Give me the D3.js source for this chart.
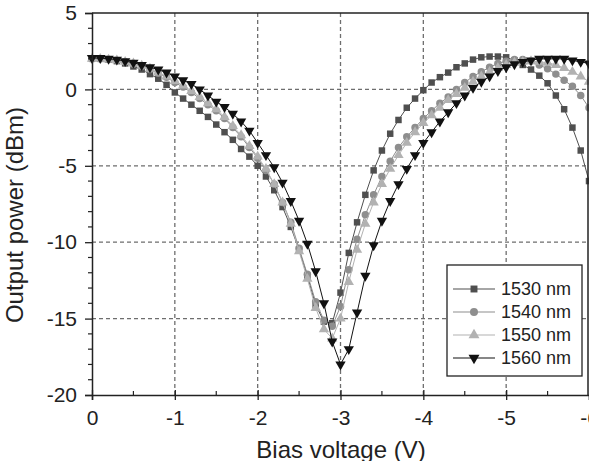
<!DOCTYPE html>
<html>
<head>
<meta charset="utf-8">
<script src="https://cdn.jsdelivr.net/npm/d3@7"></script>
<style>
  body { margin: 0; background: #fff; overflow: hidden; }
  svg { display: block; font-family: "Liberation Sans", Arial, sans-serif; }
</style>
</head>
<body>
<div id="chart"></div>
<script>
// bias voltage steps, 0 to -6 V in 0.1 V steps
var volts = d3.range(0, 61).map(function (i) { return -i / 10; });

var p1530 = [2.0, 2.0, 1.95, 1.85, 1.7, 1.5, 1.3, 1.0, 0.7, 0.3,
    -0.2, -0.6, -1.0, -1.4, -1.8, -2.3, -2.8, -3.3, -3.9, -4.4,
    -5.0, -5.7, -6.6, -7.7, -9.0, -10.5, -12.2, -14.1, -15.2, -15.3,
    -13.3, -10.7, -8.7, -6.9, -5.3, -4.0, -2.9, -2.0, -1.2, -0.6,
    -0.05, 0.45, 0.8, 1.1, 1.45, 1.7, 1.95, 2.1, 2.15, 2.15,
    2.1, 1.9, 1.6, 1.3, 0.9, 0.4, -0.4, -1.3, -2.5, -4.0, -6.0];

var p1540 = [2.0, 2.0, 1.95, 1.9, 1.8, 1.65, 1.5, 1.3, 1.05, 0.8,
    0.45, 0.15, -0.2, -0.6, -1.0, -1.4, -1.9, -2.5, -3.1, -3.8,
    -4.5, -5.3, -6.2, -7.4, -8.7, -10.4, -12.1, -13.9, -15.1, -15.5,
    -14.2, -11.8, -9.8, -8.2, -6.9, -5.7, -4.7, -3.8, -3.1, -2.5,
    -1.9, -1.4, -0.9, -0.5, 0.0, 0.45, 0.85, 1.15, 1.45, 1.7,
    1.85, 1.95, 1.95, 1.85, 1.6, 1.35, 1.0, 0.6, 0.2, -0.4, -1.2];

var p1550 = [2.0, 2.0, 1.95, 1.9, 1.8, 1.7, 1.55, 1.35, 1.1, 0.85,
    0.55, 0.25, -0.1, -0.5, -0.9, -1.3, -1.8, -2.4, -3.0, -3.7,
    -4.4, -5.2, -6.2, -7.4, -8.8, -10.6, -12.4, -14.3, -15.7, -16.3,
    -15.0, -12.6, -10.5, -8.8, -7.4, -6.2, -5.2, -4.3, -3.5, -2.8,
    -2.2, -1.7, -1.2, -0.7, -0.3, 0.1, 0.5, 0.85, 1.15, 1.4,
    1.6, 1.75, 1.8, 1.85, 1.8, 1.75, 1.6, 1.4, 1.15, 0.85, 0.5];

var p1560 = [2.05, 2.05, 2.0, 1.95, 1.85, 1.75, 1.6, 1.45, 1.3, 1.1,
    0.85, 0.6, 0.35, 0.0, -0.4, -0.8, -1.15, -1.6, -2.1, -2.7,
    -3.5, -4.3, -5.1, -6.1, -7.3, -8.6, -10.1, -11.9, -14.0, -16.5,
    -18.0, -17.0, -14.6, -12.2, -10.2, -8.6, -7.3, -6.2, -5.2, -4.3,
    -3.5, -2.8, -2.1, -1.5, -0.9, -0.4, 0.1, 0.5, 0.85, 1.2,
    1.45, 1.65, 1.8, 1.9, 2.0, 2.0, 2.0, 2.0, 1.9, 1.8, 1.7];

var seriesNames = ["1530 nm", "1540 nm", "1550 nm", "1560 nm"];
var xTicks = [0, -1, -2, -3, -4, -5, -6];
var yTicks = [5, 0, -5, -10, -15, -20];

var series = [
    { name: seriesNames[0], values: p1530, color: "#4f4f4f", shape: d3.symbolSquare, size: 42, rot: 0 },
    { name: seriesNames[1], values: p1540, color: "#8e8e8e", shape: d3.symbolCircle, size: 44, rot: 0 },
    { name: seriesNames[2], values: p1550, color: "#b2b2b2", shape: d3.symbolTriangle, size: 46, rot: 0 },
    { name: seriesNames[3], values: p1560, color: "#111111", shape: d3.symbolTriangle, size: 46, rot: 180 }
];

var W = 589, H = 461;
var margin = { top: 13, right: 0, bottom: 66, left: 92 };
var ink = "#222";

var svg = d3.select("#chart").append("svg")
    .attr("width", W)
    .attr("height", H);

var x = d3.scaleLinear().domain([0, -6]).range([margin.left, 589]);
var y = d3.scaleLinear().domain([-20, 5]).range([H - margin.bottom, margin.top]);

// grid
var grid = svg.append("g").attr("stroke", "#6e6e6e").attr("stroke-width", 1.3)
    .attr("stroke-dasharray", "4,3");
grid.selectAll(".gx").data([-1, -2, -3, -4, -5]).enter().append("line")
    .attr("x1", function (d) { return x(d); })
    .attr("x2", function (d) { return x(d); })
    .attr("y1", y(-20)).attr("y2", y(5));
grid.selectAll(".gy").data([0, -5, -10, -15]).enter().append("line")
    .attr("x1", x(0)).attr("x2", x(-6))
    .attr("y1", function (d) { return y(d); })
    .attr("y2", function (d) { return y(d); });

// lines and markers
var line = d3.line()
    .x(function (d, i) { return x(volts[i]); })
    .y(function (d) { return y(d); });

series.forEach(function (s) {
    svg.append("path")
        .datum(s.values)
        .attr("fill", "none")
        .attr("stroke", s.color)
        .attr("stroke-width", 1)
        .attr("d", line);
    svg.append("g").selectAll("path")
        .data(s.values)
        .enter().append("path")
        .attr("d", d3.symbol().type(s.shape).size(s.size))
        .attr("fill", s.color)
        .attr("transform", function (d, i) {
            return "translate(" + x(volts[i]) + "," + y(d) + ") rotate(" + s.rot + ")";
        });
});

// axes (plain hyphen for the minus sign, as in the original)
var fmt = function (d) { return "" + d; };
var xAxis = svg.append("g")
    .attr("transform", "translate(0," + y(-20) + ")")
    .call(d3.axisBottom(x).tickValues(xTicks).tickFormat(fmt).tickSize(5).tickPadding(10));
var yAxis = svg.append("g")
    .attr("transform", "translate(" + x(0) + ",0)")
    .call(d3.axisLeft(y).tickValues(yTicks).tickFormat(fmt).tickSize(7).tickPadding(8));

[xAxis, yAxis].forEach(function (a) {
    a.select(".domain").attr("stroke", ink).attr("stroke-width", 1.5);
    a.selectAll(".tick line").attr("stroke", ink).attr("stroke-width", 1.3);
    a.selectAll("text").attr("font-size", 21).attr("fill", ink)
        .style("font-family", "\"Liberation Sans\", Arial, sans-serif");
});
xAxis.selectAll(".tick line").attr("y1", -5);

// minor ticks
svg.append("g").selectAll("line")
    .data([-0.5, -1.5, -2.5, -3.5, -4.5, -5.5])
    .enter().append("line")
    .attr("x1", function (d) { return x(d); })
    .attr("x2", function (d) { return x(d); })
    .attr("y1", y(-20)).attr("y2", y(-20) - 4)
    .attr("stroke", ink).attr("stroke-width", 1.2);
svg.append("g").selectAll("line")
    .data(d3.range(-20, 5).filter(function (d) { return d % 5 !== 0; }))
    .enter().append("line")
    .attr("x1", x(0) - 4).attr("x2", x(0))
    .attr("y1", function (d) { return y(d); })
    .attr("y2", function (d) { return y(d); })
    .attr("stroke", ink).attr("stroke-width", 1.2);

// frame top and right
svg.append("line").attr("x1", x(0)).attr("x2", x(-6)).attr("y1", y(5)).attr("y2", y(5))
    .attr("stroke", ink).attr("stroke-width", 1.5);
svg.append("line").attr("x1", x(-6) - 1).attr("x2", x(-6) - 1).attr("y1", y(5)).attr("y2", y(-20))
    .attr("stroke", ink).attr("stroke-width", 1.5);

// axis titles
svg.append("text")
    .attr("x", 341).attr("y", 458)
    .attr("text-anchor", "middle")
    .attr("font-size", 24).attr("fill", ink)
    .text("Bias voltage (V)");
svg.append("text")
    .attr("transform", "translate(23,215) rotate(-90)")
    .attr("text-anchor", "middle")
    .attr("font-size", 24).attr("fill", ink)
    .text("Output power (dBm)");

// legend
var lg = svg.append("g").attr("transform", "translate(447,265)");
lg.append("rect").attr("width", 135).attr("height", 111)
    .attr("fill", "#fff").attr("stroke", ink).attr("stroke-width", 1.3);
series.forEach(function (s, i) {
    var row = lg.append("g").attr("transform", "translate(0," + (24 + i * 23) + ")");
    row.append("line").attr("x1", 6).attr("x2", 48).attr("stroke", s.color).attr("stroke-width", 1.2);
    row.append("path")
        .attr("d", d3.symbol().type(s.shape).size(s.size + 6))
        .attr("fill", s.color)
        .attr("transform", "translate(27,0) rotate(" + s.rot + ")");
    row.append("text").attr("x", 54).attr("y", 6)
        .attr("font-size", 18).attr("fill", ink)
        .text(s.name);
});
</script>
</body>
</html>
